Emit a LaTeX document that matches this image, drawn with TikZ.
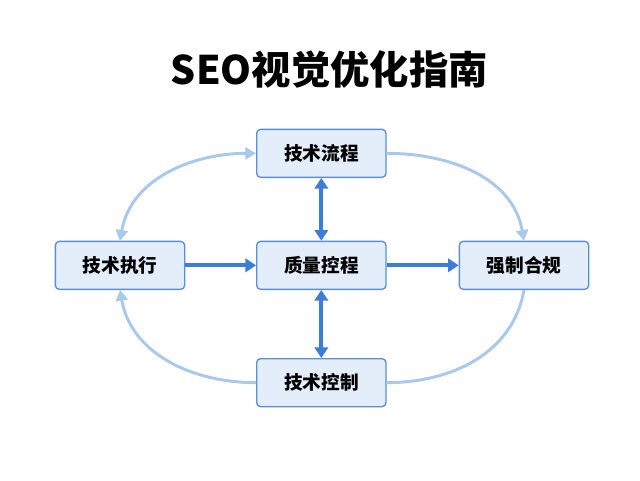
\documentclass[tikz,border=0pt]{standalone}
\usepackage{fontspec}
\newfontfamily\cjk{Noto Sans CJK SC}
\usetikzlibrary{arrows.meta}
\definecolor{boxfill}{HTML}{E4EEFA}
\definecolor{boxline}{HTML}{5A8ED6}
\definecolor{darkarr}{HTML}{3B7DD8}
\definecolor{lightarr}{HTML}{A8C8EE}
\begin{document}
\begin{tikzpicture}[x=1pt,y=-1pt,
  box/.style={draw=boxline,fill=boxfill,line width=1pt,rounded corners=3pt,minimum width=97pt,minimum height=36pt,font=\cjk\bfseries\fontsize{14}{16}\selectfont},
  dark/.style={draw=darkarr,line width=3pt,-{Triangle[length=8pt,width=10pt]}},
  dbl/.style={draw=darkarr,line width=3pt,{Triangle[length=8pt,width=10pt]}-{Triangle[length=8pt,width=10pt]}},
  light/.style={draw=lightarr,line width=2.2pt,-{Triangle[length=8pt,width=9pt]}}]
\useasboundingbox[fill=white] (0,0) rectangle (480,360);
\node[font=\cjk\bfseries\fontsize{29.5}{32}\selectfont] (title) at (247,52) {SEO视觉优化指南};
\node[box] (top) at (241,115) {技术流程};
\node[box] (left) at (90,199) {技术执行};
\node[box] (mid) at (241,199) {质量控程};
\node[box] (right) at (393,199) {强制合规};
\node[box] (bot) at (241,287) {技术控制};
\draw[dark] (left) -- (mid);
\draw[dark] (mid) -- (right);
\draw[dbl] (mid) -- (top);
\draw[dbl] (mid) -- (bot);
\draw[light,{Triangle[length=8pt,width=9pt]}-{Triangle[length=8pt,width=9pt]}] (top.west) to[out=180,in=80] (left.north);
\draw[light] (top.east) to[out=0,in=100] (right.north);
\draw[draw=lightarr,line width=2.2pt] (right.south) to[out=-100,in=0] (bot.east);
\draw[light] (bot.west) to[out=180,in=-80] (left.south);
\end{tikzpicture}
\end{document}
